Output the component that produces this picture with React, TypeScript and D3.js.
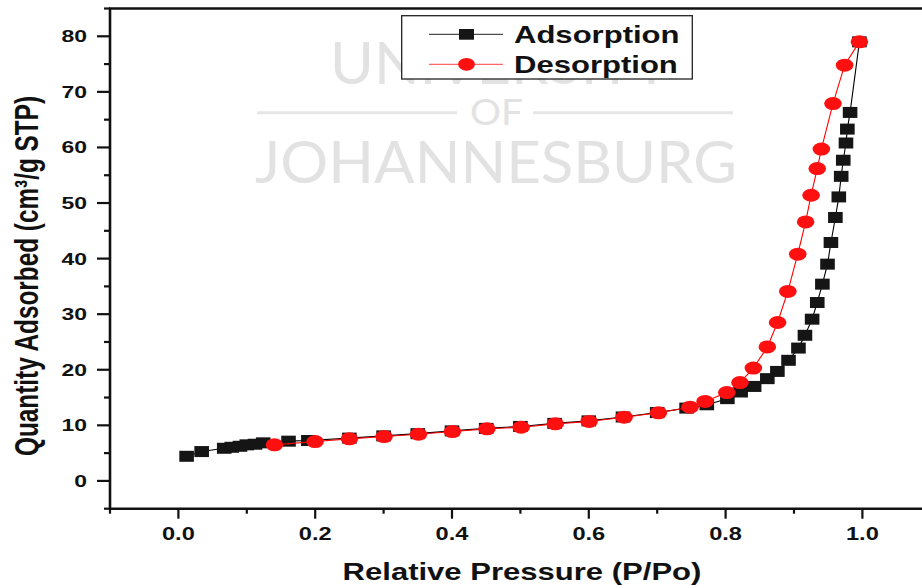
import React, { useEffect, useRef } from 'react';
import * as d3 from 'd3';

// isotherm readings, P/Po and quantity adsorbed (cm3/g STP)
const adsP = [0.012, 0.034, 0.067, 0.078, 0.090, 0.100, 0.112, 0.124, 0.161, 0.190, 0.25, 0.30, 0.35, 0.40, 0.45, 0.50, 0.55, 0.60, 0.65, 0.70, 0.743, 0.7725, 0.8026, 0.822, 0.8417, 0.861, 0.8757, 0.892, 0.9065, 0.916, 0.9265, 0.934, 0.9415, 0.949, 0.954, 0.9605, 0.9655, 0.969, 0.972, 0.976, 0.978, 0.982, 0.9956];
const adsQ = [4.43, 5.28, 5.87, 6.05, 6.23, 6.49, 6.6, 6.85, 7.15, 7.27, 7.7, 8.1, 8.5, 9.0, 9.45, 9.8, 10.35, 10.8, 11.5, 12.3, 13.1, 13.7, 14.8, 16.0, 17.0, 18.4, 19.7, 21.7, 23.9, 26.2, 29.1, 32.1, 35.4, 39.0, 42.9, 47.4, 51.1, 54.8, 57.7, 60.8, 63.3, 66.3, 79.0];

const desP = [0.9956, 0.974, 0.957, 0.940, 0.934, 0.925, 0.917, 0.9055, 0.891, 0.876, 0.861, 0.8406, 0.821, 0.8017, 0.770, 0.748, 0.7018, 0.6516, 0.6004, 0.551, 0.501, 0.451, 0.4006, 0.351, 0.3007, 0.25, 0.1999, 0.1404];
const desQ = [79.0, 74.8, 67.9, 59.7, 56.2, 51.4, 46.6, 40.8, 34.1, 28.5, 24.1, 20.3, 17.7, 15.9, 14.3, 13.26, 12.25, 11.46, 10.7, 10.27, 9.66, 9.37, 8.88, 8.4, 7.98, 7.57, 7.08, 6.49];

const xMajor = [0, 0.2, 0.4, 0.6, 0.8, 1.0];
const xMinor = [-0.1, 0.1, 0.3, 0.5, 0.7, 0.9];
const yMajor = [0, 10, 20, 30, 40, 50, 60, 70, 80];
const yMinor = [-5, 5, 15, 25, 35, 45, 55, 65, 75, 85];

const seriesNames = ['Adsorption', 'Desorption'];

const FONT = '"Liberation Sans", Arial, sans-serif';
const SX = 1.35; // the original figure is stretched sideways

export default function App() {
  const ref = useRef<SVGSVGElement>(null);

  useEffect(() => {
    const svg = d3.select(ref.current);
    svg.selectAll('*').remove();

    const x = d3.scaleLinear().domain([-0.1, 1.1]).range([110, 930.8]);
    const y = d3.scaleLinear().domain([-5, 85]).range([508.7, 8.5]);

    // watermark
    const wm = svg.append('g').attr('fill', '#e2e2e2').style('font-family', 'Lato, "Open Sans", sans-serif').style('font-weight', 400);
    wm.append('text').attr('x', 330).attr('y', 84).attr('font-size', 58)
      .attr('textLength', 340).attr('lengthAdjust', 'spacingAndGlyphs').text('UNIVERSITY');
    wm.append('text').attr('x', 470).attr('y', 125).attr('font-size', 37)
      .attr('textLength', 53).attr('lengthAdjust', 'spacingAndGlyphs').text('OF');
    wm.append('text').attr('x', 255).attr('y', 183).attr('font-size', 58)
      .attr('textLength', 482).attr('lengthAdjust', 'spacingAndGlyphs').text('JOHANNESBURG');
    wm.append('line').attr('x1', 257).attr('x2', 457).attr('y1', 112.7).attr('y2', 112.7)
      .attr('stroke', '#e6e6e6').attr('stroke-width', 3);
    wm.append('line').attr('x1', 533).attr('x2', 733).attr('y1', 112.7).attr('y2', 112.7)
      .attr('stroke', '#e6e6e6').attr('stroke-width', 3);

    // axes frame
    const axis = svg.append('g').attr('stroke', '#111');
    axis.append('line').attr('x1', 110).attr('x2', 110).attr('y1', y(85)).attr('y2', y(-5)).attr('stroke-width', 2.6);
    axis.append('line').attr('x1', 109).attr('x2', 922).attr('y1', y(-5)).attr('y2', y(-5)).attr('stroke-width', 2.6);
    axis.append('line').attr('x1', 109).attr('x2', 922).attr('y1', y(85)).attr('y2', y(85)).attr('stroke-width', 2.6);

    axis.selectAll('.ymaj').data(yMajor).enter().append('line')
      .attr('x1', 97).attr('x2', 110).attr('y1', d => y(d)).attr('y2', d => y(d)).attr('stroke-width', 2.2);
    axis.selectAll('.ymin').data(yMinor).enter().append('line')
      .attr('x1', 104).attr('x2', 110).attr('y1', d => y(d)).attr('y2', d => y(d)).attr('stroke-width', 2.2);
    axis.selectAll('.xmaj').data(xMajor).enter().append('line')
      .attr('x1', d => x(d)).attr('x2', d => x(d)).attr('y1', y(-5)).attr('y2', y(-5) + 10).attr('stroke-width', 2.2);
    axis.selectAll('.xmin').data(xMinor).enter().append('line')
      .attr('x1', d => x(d)).attr('x2', d => x(d)).attr('y1', y(-5)).attr('y2', y(-5) + 5).attr('stroke-width', 2.2);

    const labels = svg.append('g').attr('fill', '#111').style('font-family', FONT).style('font-weight', 'bold');
    labels.selectAll('.yl').data(yMajor).enter().append('text')
      .attr('transform', d => `translate(87,${y(d) + 6}) scale(${SX},1)`)
      .attr('text-anchor', 'end').attr('font-size', 17).text(d => d3.format('d')(d));
    labels.selectAll('.xl').data(xMajor).enter().append('text')
      .attr('transform', d => `translate(${x(d)},540) scale(${SX},1)`)
      .attr('text-anchor', 'middle').attr('font-size', 17.5).text(d => d3.format('.1f')(d));

    labels.append('text').attr('transform', `translate(522,580) scale(${SX},1)`)
      .attr('text-anchor', 'middle').attr('font-size', 23).text('Relative Pressure (P/Po)');
    labels.append('text').attr('transform', `translate(38,276) scale(${SX},1) rotate(-90)`)
      .attr('text-anchor', 'middle').attr('font-size', 25).attr('textLength', 360)
      .attr('lengthAdjust', 'spacingAndGlyphs').text('Quantity Adsorbed (cm³/g STP)');

    // series
    const ads = adsP.map((p, i) => [x(p), y(adsQ[i])] as [number, number]);
    const des = desP.map((p, i) => [x(p), y(desQ[i])] as [number, number]);
    const path = d3.line();

    svg.append('path').attr('d', path(ads)).attr('fill', 'none').attr('stroke', '#000').attr('stroke-width', 1.1);
    svg.append('g').selectAll('rect').data(ads).enter().append('rect')
      .attr('x', d => d[0] - 7.3).attr('y', d => d[1] - 5.5).attr('width', 14.6).attr('height', 11)
      .attr('fill', '#151515');

    svg.append('path').attr('d', path(des)).attr('fill', 'none').attr('stroke', '#ff0000').attr('stroke-width', 1.1);
    svg.append('g').selectAll('ellipse').data(des).enter().append('ellipse')
      .attr('cx', d => d[0]).attr('cy', d => d[1]).attr('rx', 8.8).attr('ry', 6.5)
      .attr('fill', '#ff1010');

    // legend
    const lg = svg.append('g');
    lg.append('rect').attr('x', 401.7).attr('y', 15.7).attr('width', 290.6).attr('height', 63.3)
      .attr('fill', '#fff').attr('stroke', '#222').attr('stroke-width', 1.3);
    lg.append('line').attr('x1', 429).attr('x2', 503).attr('y1', 34.3).attr('y2', 34.3).attr('stroke', '#222').attr('stroke-width', 1);
    lg.append('rect').attr('x', 459).attr('y', 29).attr('width', 15).attr('height', 10.7).attr('fill', '#151515');
    lg.append('line').attr('x1', 429).attr('x2', 503).attr('y1', 64.3).attr('y2', 64.3).attr('stroke', '#ff4040').attr('stroke-width', 1);
    lg.append('ellipse').attr('cx', 466.5).attr('cy', 64.3).attr('rx', 8.4).attr('ry', 6.4).attr('fill', '#ff1010');
    lg.selectAll('.lt').data(seriesNames).enter().append('text')
      .attr('transform', (d, i) => `translate(514,${43.3 + i * 30}) scale(${SX},1)`)
      .attr('font-size', 23).attr('fill', '#111').style('font-family', FONT).style('font-weight', 'bold')
      .text(d => d);
  }, []);

  return (
    <svg ref={ref} width={922} height={588}
      style={{ position: 'absolute', left: 0, top: 0, display: 'block', background: '#fff' }} />
  );
}
